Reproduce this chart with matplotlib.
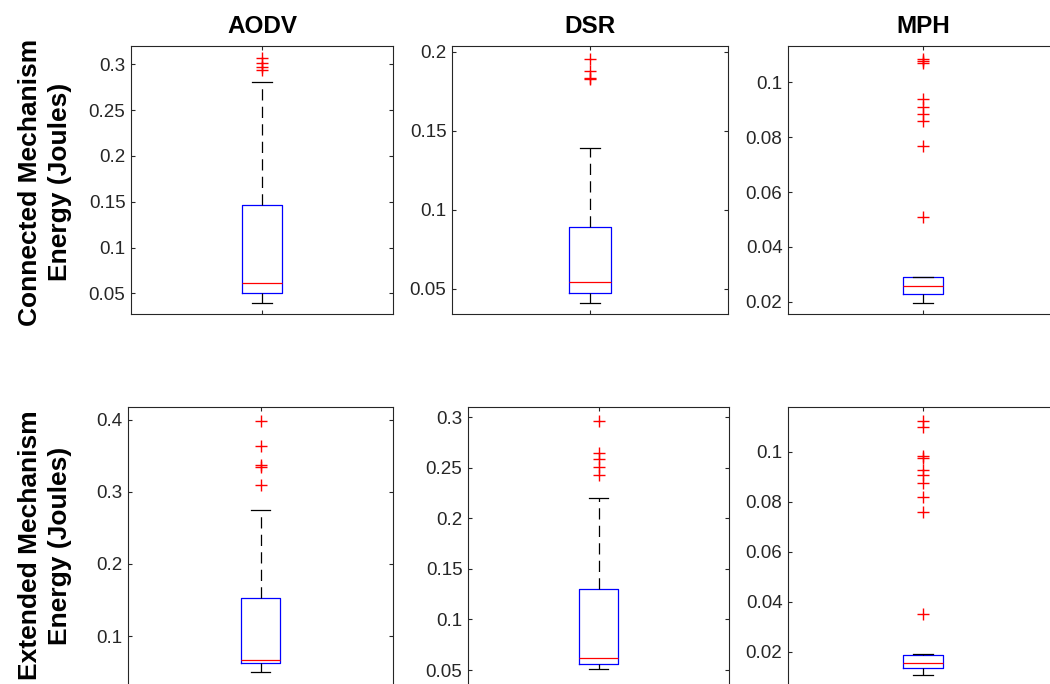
import matplotlib
matplotlib.use('Agg')
import matplotlib.pyplot as plt
from matplotlib.ticker import FuncFormatter

plt.rcParams['font.family'] = ['Liberation Sans', 'DejaVu Sans']

# protocol names (column titles)
protocolos = ['AODV', 'DSR', 'MPH']
filas = ['Connected Mechanism\nEnergy (Joules)', 'Extended Mechanism\nEnergy (Joules)']

# Connected mechanism: box statistics
con_q1 = [0.0507, 0.0471, 0.0228]
con_med = [0.0612, 0.0540, 0.0259]
con_q3 = [0.1464, 0.0893, 0.0289]
con_wlo = [0.0397, 0.0411, 0.0197]
con_whi = [0.2810, 0.1390, 0.0290]
con_out = [
    [0.3066, 0.3017, 0.2971, 0.2943],
    [0.1956, 0.1882, 0.1833, 0.1830],
    [0.1085, 0.1078, 0.1071, 0.0938, 0.0911, 0.0885, 0.0860, 0.0768, 0.0510],
]

# Extended mechanism
ext_q1 = [0.0621, 0.0562, 0.0134]
ext_med = [0.0667, 0.0619, 0.0156]
ext_q3 = [0.1524, 0.1297, 0.0187]
ext_wlo = [0.0504, 0.0507, 0.0107]
ext_whi = [0.2754, 0.2200, 0.0191]
ext_out = [
    [0.3990, 0.3639, 0.3375, 0.3351, 0.3097],
    [0.2966, 0.2644, 0.2585, 0.2511, 0.2429],
    [0.1123, 0.1100, 0.0983, 0.0974, 0.0927, 0.0907, 0.0876, 0.0820, 0.0760, 0.0351],
]

# axis limits and ticks per panel
con_ylim = [(0.0274, 0.3200), (0.0340, 0.2038), (0.0156, 0.1132)]
ext_ylim = [(0.0278, 0.4180), (0.0322, 0.3102), (0.00548, 0.1179)]
con_ticks = [[0.05, 0.1, 0.15, 0.2, 0.25, 0.3], [0.05, 0.1, 0.15, 0.2], [0.02, 0.04, 0.06, 0.08, 0.1]]
ext_ticks = [[0.1, 0.2, 0.3, 0.4], [0.05, 0.1, 0.15, 0.2, 0.25, 0.3], [0.02, 0.04, 0.06, 0.08, 0.1]]

W, H = 1050, 684
fig = plt.figure(figsize=(W / 100, H / 100), dpi=100)

# panel boxes in pixels (left, top, right, bottom)
cajas = [
    [(131, 46, 393, 314), (452, 46, 728, 314), (788, 46, 1058, 314)],
    [(128, 407, 393, 688), (468, 407, 729, 688), (788, 407, 1058, 688)],
]

def px_axes(l, t, r, b):
    return fig.add_axes([l / W, 1 - b / H, (r - l) / W, (b - t) / H])

gris = '#262626'
datos = [
    (con_q1, con_med, con_q3, con_wlo, con_whi, con_out, con_ylim, con_ticks),
    (ext_q1, ext_med, ext_q3, ext_wlo, ext_whi, ext_out, ext_ylim, ext_ticks),
]

fmt = FuncFormatter(lambda v, p: ('%g' % round(v, 4)))

for fila, (q1, med, q3, wlo, whi, out, ylims, ticks) in enumerate(datos):
    for col in range(3):
        ax = px_axes(*cajas[fila][col])
        stats = [dict(q1=q1[col], med=med[col], q3=q3[col],
                      whislo=wlo[col], whishi=whi[col], fliers=out[col])]
        ax.bxp(stats, positions=[1], widths=0.15, capwidths=0.074,
               boxprops=dict(color='blue', lw=0.9),
               medianprops=dict(color='red', lw=0.9),
               whiskerprops=dict(color='black', lw=0.9, linestyle=(0, (9, 5))),
               capprops=dict(color='black', lw=0.9),
               flierprops=dict(marker='+', markeredgecolor='red', markersize=8,
                               markeredgewidth=1.0, linestyle='none'))
        ax.set_xlim(0.5, 1.5)
        ax.set_ylim(*ylims[col])
        ax.set_yticks(ticks[col])
        ax.yaxis.set_major_formatter(fmt)
        ax.set_xticks([1])
        ax.set_xticklabels([])
        ax.tick_params(direction='in', length=3, width=0.8, color=gris,
                       top=True, right=True, labelsize=13.5, labelcolor=gris, pad=4)
        for s in ax.spines.values():
            s.set_color(gris)
            s.set_linewidth(0.8)
        if fila == 0:
            ax.set_title(protocolos[col], fontsize=17.5, fontweight='bold', pad=9)

# row labels
for fila in range(2):
    l, t, r, b = cajas[fila][0]
    yc = (t + min(b, 684)) / 2 + (2 if fila == 0 else 0)
    fig.text(45 / W, 1 - yc / H, filas[fila], rotation=90, ha='center', va='center',
             multialignment='center', fontsize=19, fontweight='bold', linespacing=1.35)

plt.savefig('out.png', dpi=100)
